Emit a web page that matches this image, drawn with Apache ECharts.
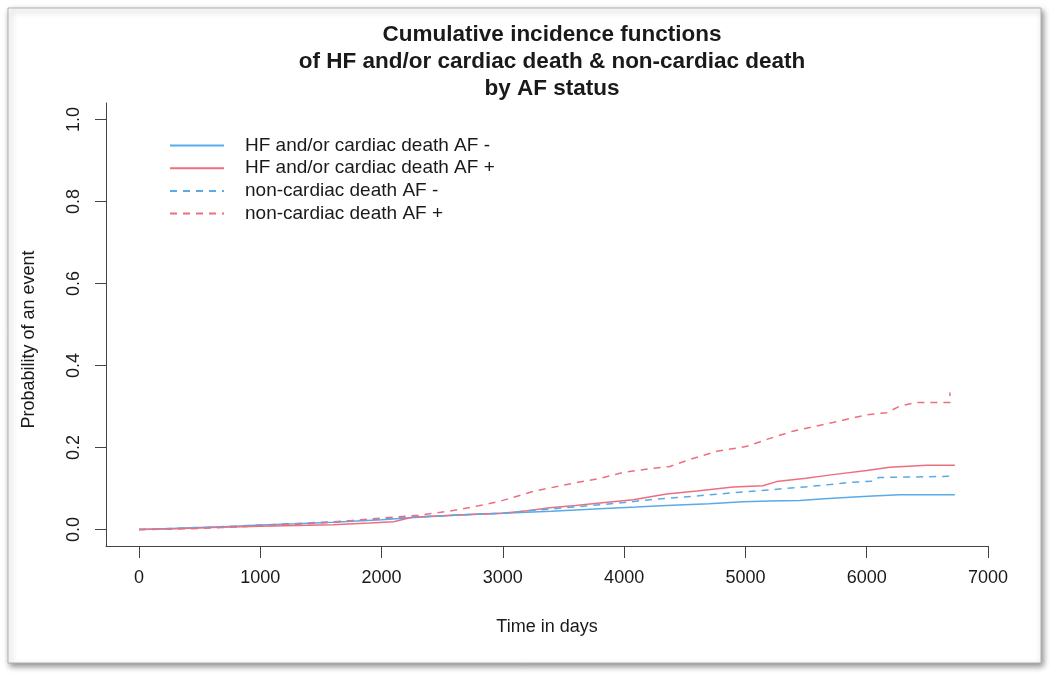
<!DOCTYPE html>
<html>
<head>
<meta charset="utf-8">
<script src="https://cdn.jsdelivr.net/npm/echarts@6/dist/echarts.min.js"></script>
<style>
html,body{margin:0;padding:0;background:#fff;}
#chart{width:1050px;height:677px;}
</style>
</head>
<body>
<div id="chart"></div>
<script>
const titleLines = ['Cumulative incidence functions', 'of HF and/or cardiac death & non-cardiac death', 'by AF status'];
const xTitle = 'Time in days';
const yTitle = 'Probability of an event';
const seriesNames = ['HF and/or cardiac death AF -', 'HF and/or cardiac death AF +', 'non-cardiac death AF -', 'non-cardiac death AF +'];

// HF and/or cardiac death, AF -
const hfNegT = [0, 200, 500, 800, 1000, 1300, 1600, 2000, 2300, 2600, 3000, 3400, 3800, 4100, 4350, 4700, 4980, 5200, 5450, 5650, 5862, 6050, 6273, 6500, 6727];
const hfNegP = [0, 0.002, 0.005, 0.008, 0.011, 0.014, 0.018, 0.024, 0.030, 0.035, 0.040, 0.045, 0.051, 0.055, 0.059, 0.063, 0.068, 0.070, 0.071, 0.075, 0.079, 0.082, 0.085, 0.085, 0.085];
// HF and/or cardiac death, AF +
const hfPosT = [0, 300, 600, 1000, 1300, 1600, 1900, 2100, 2250, 2500, 2800, 3000, 3200, 3388, 3600, 3800, 4075, 4350, 4600, 4900, 5144, 5257, 5500, 5721, 6001, 6190, 6495, 6727];
const hfPosP = [0, 0.002, 0.005, 0.008, 0.010, 0.012, 0.016, 0.019, 0.030, 0.034, 0.038, 0.040, 0.046, 0.053, 0.059, 0.065, 0.073, 0.087, 0.094, 0.104, 0.107, 0.117, 0.125, 0.134, 0.144, 0.152, 0.157, 0.157];
// non-cardiac death, AF -
const ncNegT = [0, 300, 600, 1000, 1300, 1600, 2000, 2300, 2600, 3000, 3300, 3662, 4000, 4213, 4600, 4900, 5200, 5450, 5700, 5862, 6050, 6100, 6300, 6727];
const ncNegP = [0, 0.003, 0.006, 0.011, 0.015, 0.019, 0.026, 0.031, 0.035, 0.040, 0.048, 0.057, 0.066, 0.073, 0.082, 0.090, 0.097, 0.103, 0.110, 0.115, 0.118, 0.127, 0.128, 0.130];
// non-cardiac death, AF +
const ncPosT = [0, 300, 600, 1000, 1300, 1600, 2000, 2300, 2563, 2800, 2976, 3248, 3528, 3800, 3990, 4200, 4378, 4542, 4765, 5012, 5177, 5391, 5721, 6001, 6165, 6273, 6410, 6660, 6686, 6686];
const ncPosP = [0, 0.001, 0.004, 0.009, 0.013, 0.018, 0.028, 0.035, 0.045, 0.058, 0.069, 0.093, 0.110, 0.125, 0.139, 0.148, 0.154, 0.171, 0.191, 0.203, 0.220, 0.240, 0.261, 0.280, 0.285, 0.301, 0.310, 0.310, 0.310, 0.334];

const xTicks = [0, 1000, 2000, 3000, 4000, 5000, 6000, 7000];
const yTicks = [0.0, 0.2, 0.4, 0.6, 0.8, 1.0];
// plot-region limits (R style 4% extension)
const xLimits = [-272, 7000];
const yLimits = [-0.04, 1.04];

const BLUE = '#5aaae8';
const RED = '#ec6f7f';
const FONT = '"Liberation Sans", Arial, sans-serif';
const AXC = '#444';
const TXC = '#1a1a1a';

function zip(t, p) { return t.map((v, i) => [v, p[i]]); }

const chart = echarts.init(document.getElementById('chart'), null, {renderer: 'canvas'});

function mkSeries(name, t, p, color, dashed) {
  return {
    name: name, type: 'line',
    data: zip(t, p), symbol: 'none', showSymbol: false,
    lineStyle: {color: color, width: 1.5, type: dashed ? [7, 6] : 'solid'},
    itemStyle: {color: color},
    emphasis: {disabled: true}, animation: false, z: 3
  };
}

const option = {
  animation: false,
  backgroundColor: 'transparent',
  graphic: [{
    type: 'rect', z: -10, silent: true,
    shape: {x: 8, y: 8, width: 1033, height: 655},
    style: {fill: '#fff', stroke: '#b0b0b0', lineWidth: 1,
      shadowBlur: 6, shadowOffsetX: 2, shadowOffsetY: 3, shadowColor: 'rgba(0,0,0,0.45)'}
  }],
  title: {
    text: titleLines.join('\n'),
    left: 547, top: 16, textAlign: 'center',
    textStyle: {fontFamily: FONT, fontSize: 22.5, fontWeight: 'bold', lineHeight: 27, color: TXC}
  },
  legend: {
    orient: 'vertical', left: 164, top: 131,
    itemWidth: 54, itemHeight: 18, itemGap: 3.7,
    data: seriesNames,
    itemStyle: {opacity: 0},
    textStyle: {fontFamily: FONT, fontSize: 19, color: TXC, padding: [0, 0, 0, 16], lineHeight: 18},
    selectedMode: false
  },
  grid: {left: 106, right: 62, top: 103, bottom: 131},
  xAxis: {
    type: 'value', min: xLimits[0], max: xLimits[1],
    axisLine: {show: true, onZero: false, lineStyle: {color: AXC, width: 1}},
    axisTick: {show: true, length: 12, customValues: xTicks, lineStyle: {color: AXC, width: 1}},
    axisLabel: {fontFamily: FONT, fontSize: 18, color: TXC, margin: 23, customValues: xTicks,
      formatter: v => String(v)},
    splitLine: {show: false},
    name: xTitle, nameLocation: 'middle', nameGap: 72,
    nameTextStyle: {fontFamily: FONT, fontSize: 18, color: TXC}
  },
  yAxis: {
    type: 'value', min: yLimits[0], max: yLimits[1],
    axisLine: {show: true, onZero: false, lineStyle: {color: AXC, width: 1}},
    axisTick: {show: true, length: 11, customValues: yTicks, lineStyle: {color: AXC, width: 1}},
    axisLabel: {fontFamily: FONT, fontSize: 18, color: TXC, margin: 23, rotate: 90, customValues: yTicks,
      formatter: v => v.toFixed(1)},
    splitLine: {show: false},
    name: yTitle, nameLocation: 'middle', nameGap: 68, nameRotate: 90,
    nameTextStyle: {fontFamily: FONT, fontSize: 18, color: TXC, padding: [0, 30, 0, 0]}
  },
  series: [
    mkSeries(seriesNames[0], hfNegT, hfNegP, BLUE, false),
    mkSeries(seriesNames[1], hfPosT, hfPosP, RED, false),
    mkSeries(seriesNames[2], ncNegT, ncNegP, BLUE, true),
    mkSeries(seriesNames[3], ncPosT, ncPosP, RED, true)
  ]
};
chart.setOption(option);
</script>
</body>
</html>
